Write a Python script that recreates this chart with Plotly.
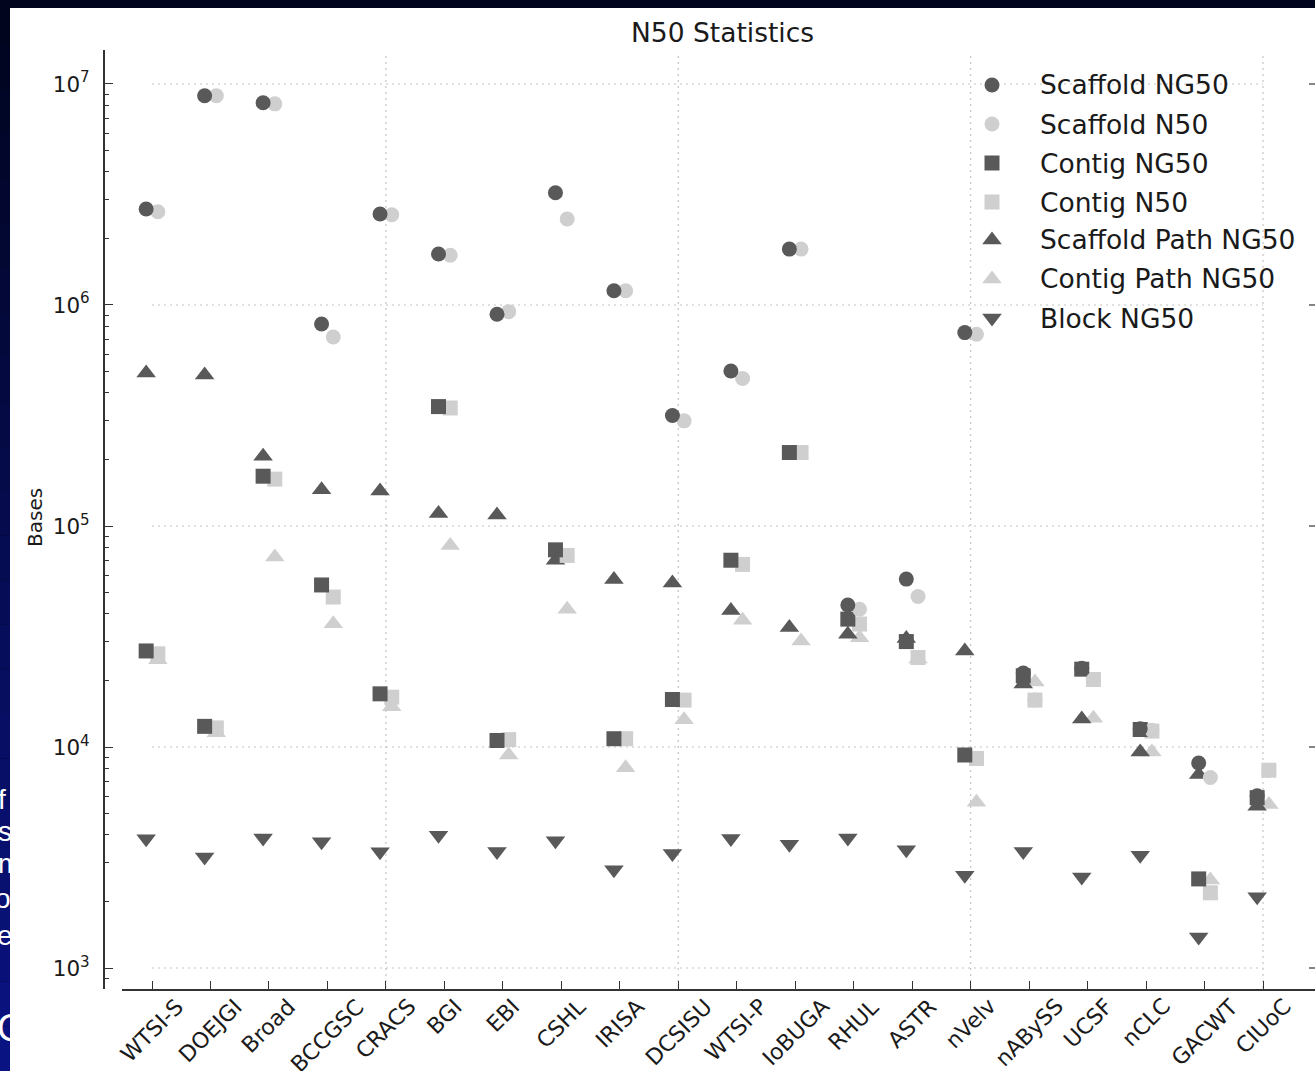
import plotly.graph_objects as go

W, H = 1315, 1071

# ---------------- data ----------------
teams = ["WTSI-S", "DOEJGI", "Broad", "BCCGSC", "CRACS", "BGI", "EBI", "CSHL", "IRISA", "DCSISU",
         "WTSI-P", "IoBUGA", "RHUL", "ASTR", "nVelv", "nABySS", "UCSF", "nCLC", "GACWT", "CIUoC"]

scaffold_ng50 = [2.72e6, 8.85e6, 8.23e6, 8.2e5, 2.58e6, 1.70e6, 9.08e5, 3.22e6, 1.16e6, 3.16e5,
                 5.03e5, 1.79e6, 4.39e4, 5.75e4, 7.5e5, 2.16e4, 2.27e4, 1.21e4, 8.47e3, 6.02e3]
scaffold_n50 = [2.64e6, 8.85e6, 8.13e6, 7.16e5, 2.56e6, 1.68e6, 9.33e5, 2.45e6, 1.16e6, 2.99e5,
                4.65e5, 1.79e6, 4.2e4, 4.8e4, 7.37e5, 1.63e4, 2.02e4, 1.19e4, 7.28e3, 7.85e3]
contig_ng50 = [2.72e4, 1.24e4, 1.68e5, 5.41e4, 1.74e4, 3.47e5, 1.07e4, 7.8e4, 1.09e4, 1.64e4,
               7.0e4, 2.15e5, 3.79e4, 3.0e4, 9.2e3, 2.1e4, 2.25e4, 1.2e4, 2.53e3, 5.9e3]
contig_n50 = [2.64e4, 1.22e4, 1.63e5, 4.77e4, 1.68e4, 3.42e5, 1.08e4, 7.36e4, 1.09e4, 1.63e4,
              6.7e4, 2.15e5, 3.6e4, 2.54e4, 8.87e3, 1.63e4, 2.02e4, 1.18e4, 2.19e3, 7.85e3]
scaffold_path_ng50 = [4.92e5, 4.82e5, 2.07e5, 1.46e5, 1.44e5, 1.14e5, 1.12e5, 7.0e4, 5.72e4, 5.52e4,
                      4.15e4, 3.47e4, 3.24e4, 3.1e4, 2.72e4, 1.93e4, 1.34e4, 9.5e3, 7.5e3, 5.4e3]
contig_path_ng50 = [2.48e4, 1.16e4, 7.24e4, 3.61e4, 1.52e4, 8.17e4, 9.2e3, 4.2e4, 8.05e3, 1.33e4,
                    3.75e4, 3.02e4, 3.12e4, 2.5e4, 5.63e3, 1.97e4, 1.35e4, 9.5e3, 2.5e3, 5.5e3]
block_ng50 = [3.84e3, 3.18e3, 3.87e3, 3.73e3, 3.36e3, 3.99e3, 3.37e3, 3.77e3, 2.78e3, 3.3e3,
              3.85e3, 3.63e3, 3.87e3, 3.43e3, 2.63e3, 3.37e3, 2.58e3, 3.24e3, 1.38e3, 2.1e3]

series_names = ["Scaffold NG50", "Scaffold N50", "Contig NG50", "Contig N50",
                "Scaffold Path NG50", "Contig Path NG50", "Block NG50"]
series_values = [scaffold_ng50, scaffold_n50, contig_ng50, contig_n50,
                 scaffold_path_ng50, contig_path_ng50, block_ng50]

y_tick_vals = [1e3, 1e4, 1e5, 1e6, 1e7]
y_tick_text = ["10<sup>3</sup>", "10<sup>4</sup>", "10<sup>5</sup>", "10<sup>6</sup>", "10<sup>7</sup>"]
title_text = "N50 Statistics"
y_title = "Bases"

# ---------------- styles ----------------
DARK = "#595959"
LIGHT = "#cfcfcf"
INK = "#1a1a1a"
FONT = "DejaVu Sans"
styles = {
    "Scaffold NG50": ("circle", DARK, -0.1, 15),
    "Scaffold N50": ("circle", LIGHT, 0.1, 15),
    "Contig NG50": ("square", DARK, -0.1, 15),
    "Contig N50": ("square", LIGHT, 0.1, 15),
    "Scaffold Path NG50": ("triangle-up", DARK, -0.1, 17),
    "Contig Path NG50": ("triangle-up", LIGHT, 0.1, 17),
    "Block NG50": ("triangle-down", DARK, -0.1, 17),
}


def px(x):
    return x / W


def py(y):
    return 1 - y / H


fig = go.Figure()

# draw in reverse legend order so dark/circles lie on top
for name, vals in reversed(list(zip(series_names, series_values))):
    sym, col, off, size = styles[name]
    fig.add_trace(go.Scatter(
        x=[i + 1 + off for i in range(len(teams))], y=vals, mode="markers", name=name,
        marker=dict(symbol=sym, color=col, size=size, line=dict(width=0)),
        showlegend=False, xaxis="x", yaxis="y"))

# left dark strip text fragments (clipped by a tiny subplot)
strip_text = ["f", "s:", "m", "ol", "e", "O"]
fig.add_trace(go.Scatter(
    x=[-2, -2, -2, -5, -3, -3], y=[802, 834, 866, 901, 938, 1031], text=strip_text,
    mode="text", textposition="middle right",
    textfont=dict(family="Liberation Sans", color="white", size=[28, 28, 28, 28, 28, 38]),
    cliponaxis=True, showlegend=False, hoverinfo="skip", xaxis="x2", yaxis="y2"))

# manual legend markers (pixel overlay axes)
leg_rows = [85, 124, 163, 202, 240, 279, 318]
for name, ry in zip(series_names, leg_rows):
    sym, col, off, size = styles[name]
    fig.add_trace(go.Scatter(x=[992], y=[ry], mode="markers",
                             marker=dict(symbol=sym, color=col, size=size, line=dict(width=0)),
                             showlegend=False, hoverinfo="skip", xaxis="x3", yaxis="y3"))

shapes = []
# background: dark navy gradient + white chart area
n_seg = 24
for k in range(n_seg):
    t = k / (n_seg - 1)
    r = int(2 + t * 8)
    g = int(5 + t * 14)
    b = int(30 + t * 100)
    shapes.append(dict(type="rect", xref="paper", yref="paper", layer="below",
                       x0=0, x1=1, y0=py(H * (k + 1) / n_seg), y1=py(H * k / n_seg),
                       fillcolor=f"rgb({r},{g},{b})", line=dict(width=0)))
shapes.append(dict(type="rect", xref="paper", yref="paper", layer="below",
                   x0=px(10), x1=1, y0=0, y1=py(8), fillcolor="white", line=dict(width=0)))
GRID = "#c4c4c4"
for v in y_tick_vals:
    shapes.append(dict(type="line", xref="x", yref="y", layer="below", x0=1, x1=len(teams),
                       y0=v, y1=v, line=dict(color=GRID, width=1.2, dash="2px,4px")))
    shapes.append(dict(type="line", xref="paper", yref="y", x0=px(1309), x1=px(1316),
                       y0=v, y1=v, line=dict(color="#333333", width=1.2)))
for xv in [5, 10, 15, 20]:
    shapes.append(dict(type="line", xref="x", yref="paper", layer="below", x0=xv, x1=xv,
                       y0=py(988), y1=py(53), line=dict(color=GRID, width=1.2, dash="2px,4px")))

annotations = []
for i, t in enumerate(teams):
    annotations.append(dict(x=i + 1, xref="x", y=py(991), yref="paper", text=t, textangle=-45,
                            xanchor="center", yanchor="top", showarrow=False,
                            font=dict(family=FONT, size=22, color=INK)))
for name, ry in zip(series_names, leg_rows):
    annotations.append(dict(x=px(1038), xref="paper", y=py(ry), yref="paper", text=name,
                            xanchor="left", yanchor="middle", showarrow=False,
                            font=dict(family=FONT, size=26.5, color=INK)))
annotations.append(dict(x=px(35), xref="paper", y=py(518), yref="paper", text=y_title,
                        textangle=-90, xanchor="center", yanchor="middle", showarrow=False,
                        font=dict(family=FONT, size=20, color=INK)))
annotations.append(dict(x=px(723), xref="paper", y=py(32), yref="paper", text=title_text,
                        xanchor="center", yanchor="middle", showarrow=False,
                        font=dict(family=FONT, size=26.5, color=INK)))

minor_vals = [k * 10 ** e for e in range(2, 8) for k in range(2, 10) if 800 <= k * 10 ** e <= 1.4e7]

x_lo = 1 - 30 / 58.474
x_hi = 1 + (W - 152) / 58.474

fig.update_layout(
    width=W, height=H, margin=dict(l=0, r=0, t=0, b=0),
    paper_bgcolor="rgb(2,5,30)", plot_bgcolor="rgba(0,0,0,0)",
    showlegend=False, shapes=shapes, annotations=annotations,
    xaxis=dict(domain=[px(122), 1], range=[x_lo, x_hi], anchor="y",
               tickmode="array", tickvals=list(range(1, len(teams) + 1)), showticklabels=False,
               ticks="inside", ticklen=8, tickwidth=1.3, tickcolor="#333333",
               showline=True, linecolor="#333333", linewidth=2, showgrid=False, zeroline=False),
    yaxis=dict(type="log", domain=[py(989), py(50)], range=[2.9050, 7.1538],
               anchor="free", position=px(104),
               tickmode="array", tickvals=y_tick_vals, ticktext=y_tick_text,
               ticks="inside", ticklen=8, tickwidth=1.3, tickcolor="#333333",
               tickfont=dict(family=FONT, size=21.5, color=INK), ticklabelstandoff=9,
               minor=dict(tickmode="array", tickvals=minor_vals, ticks="inside", ticklen=4,
                          tickwidth=1, tickcolor="#333333", showgrid=False),
               showline=True, linecolor="#333333", linewidth=2, showgrid=False, zeroline=False),
    xaxis2=dict(domain=[0, px(10)], range=[0, 10], visible=False, anchor="y2"),
    yaxis2=dict(domain=[0, 1], range=[H, 0], visible=False, anchor="x2"),
    xaxis3=dict(domain=[0, 1], range=[0, W], visible=False, anchor="y3"),
    yaxis3=dict(domain=[0, 1], range=[H, 0], visible=False, anchor="x3"),
)

fig.write_html("out.html", config={"displayModeBar": False},
               post_script="document.body.style.margin='0';document.body.style.overflow='hidden';")
